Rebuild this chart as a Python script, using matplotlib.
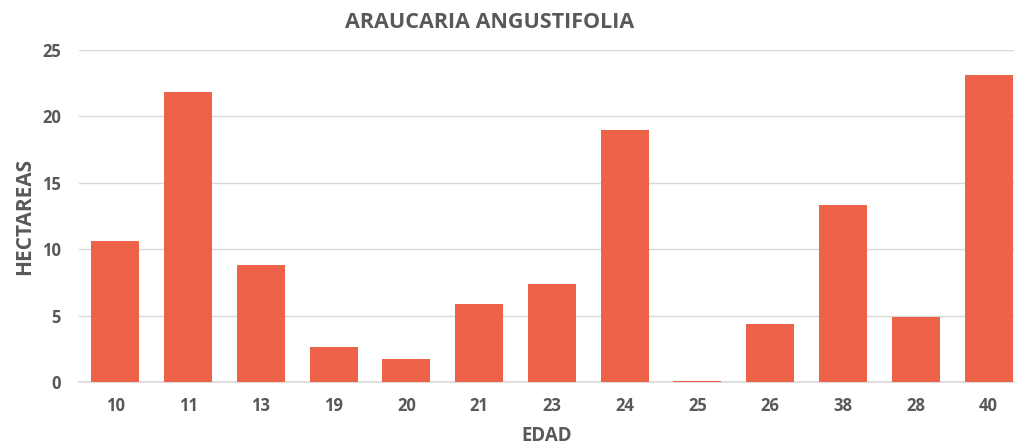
import numpy as np
import matplotlib
matplotlib.use("Agg")
import matplotlib.pyplot as plt

edad = ["10", "11", "13", "19", "20", "21", "23", "24", "25", "26", "38", "28", "40"]
hectareas = [10.6, 21.85, 8.8, 2.6, 1.7, 5.85, 7.4, 18.95, 0.1, 4.4, 13.35, 4.9, 23.15]

plt.rcParams['font.family'] = ['Open Sans', 'DejaVu Sans']
gris = "#595959"

fig = plt.figure(figsize=(10.16, 4.46), dpi=100)
ax = fig.add_axes([79/1016, 64/446, (1014-79)/1016, (382-50)/446])

x = np.arange(len(edad))
ax.bar(x, hectareas, width=0.66, color="#EC6349", zorder=3)

ax.set_ylim(0, 25)
ax.set_xlim(-0.5, 12.35)
ax.set_yticks(range(0, 26, 5))
ax.set_xticks(x)
ax.set_xticklabels(edad)
ax.grid(axis="y", color="#d9d9d9", linewidth=1, zorder=0)
for s in ["top", "right", "left"]:
    ax.spines[s].set_visible(False)
ax.spines["bottom"].set_color("#d9d9d9")
ax.spines["bottom"].set_linewidth(1.2)
ax.tick_params(axis="both", length=0, colors=gris, labelsize=12)
ax.tick_params(axis="x", pad=11)
ax.tick_params(axis="y", pad=13)
for lab in ax.get_xticklabels() + ax.get_yticklabels():
    lab.set_fontweight("bold")

ax.set_xlabel("EDAD", fontsize=13.5, fontweight="bold", color=gris, labelpad=8)
ax.set_ylabel("HECTAREAS", fontsize=15, fontweight="bold", color=gris, labelpad=5)
fig.text(490/1016, 1 - 22/446, "ARAUCARIA ANGUSTIFOLIA", ha="center", va="center",
         fontsize=15.5, fontweight="bold", color=gris)

fig.savefig("out.png", dpi=100)
